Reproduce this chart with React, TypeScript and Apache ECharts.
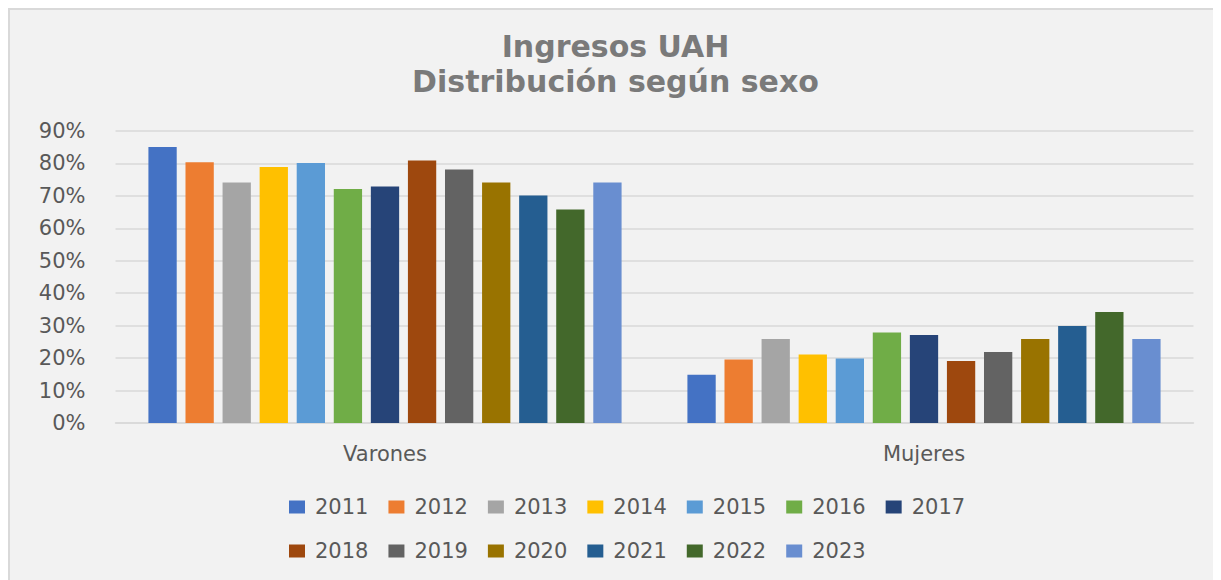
import React, { useEffect, useRef } from "react";
import * as echarts from "echarts";

const categories = ["Varones", "Mujeres"];
const years = ["2011", "2012", "2013", "2014", "2015", "2016", "2017", "2018", "2019", "2020", "2021", "2022", "2023"];
const varones = [85.1, 80.4, 74.1, 78.9, 80.1, 72.1, 72.9, 80.9, 78.1, 74.1, 70.1, 65.8, 74.1];
const mujeres = [14.9, 19.6, 25.9, 21.1, 19.9, 27.9, 27.1, 19.1, 21.9, 25.9, 29.9, 34.2, 25.9];
const colors = ["#4472C4", "#ED7D31", "#A5A5A5", "#FFC000", "#5B9BD5", "#70AD47", "#264478", "#9E480E", "#636363", "#997300", "#255E91", "#43682B", "#698ED0"];
const yTicks = [0, 10, 20, 30, 40, 50, 60, 70, 80, 90];

const FONT = "DejaVu Sans";

export default function App() {
  const ref = useRef<HTMLDivElement>(null);
  useEffect(() => {
    document.documentElement.style.overflow = "hidden";
    const chart = echarts.init(ref.current!, null, { renderer: "svg" });
    chart.setOption({
      animation: false,
      backgroundColor: "#f2f2f2",
      color: colors,
      title: {
        text: "Ingresos UAH\nDistribución según sexo",
        left: "center",
        top: 14,
        textStyle: {
          fontFamily: FONT,
          fontSize: 30,
          fontWeight: "bold",
          color: "#7a7a7a",
          lineHeight: 35,
        },
      },
      legend: {
        left: 274,
        top: 480,
        width: 700,
        itemWidth: 16,
        itemHeight: 13,
        itemGap: 20,
        icon: "rect",
        textStyle: {
          fontFamily: FONT,
          fontSize: 21,
          color: "#595959",
          lineHeight: 24,
          padding: [0, 0, 0, 5],
        },
        data: years,
      },
      grid: { left: 105.5, right: 27.5, top: 121, bottom: 157, containLabel: false },
      xAxis: {
        type: "category",
        data: categories,
        axisLine: { show: true, lineStyle: { color: "#d9d9d9", width: 1.5 } },
        axisTick: { show: false },
        axisLabel: { fontFamily: FONT, fontSize: 21, color: "#595959", margin: 20 },
      },
      yAxis: {
        type: "value",
        min: yTicks[0],
        max: yTicks[yTicks.length - 1],
        interval: 10,
        axisLine: { show: false },
        axisTick: { show: false },
        splitLine: { lineStyle: { color: "#d9d9d9", width: 1.5 } },
        axisLabel: {
          fontFamily: FONT,
          fontSize: 21,
          color: "#595959",
          margin: 30,
          formatter: (v: number) => `${v}%`,
        },
      },
      series: years.map((y, i) => ({
        name: y,
        type: "bar",
        data: [varones[i], mujeres[i]],
        barWidth: 28.3,
        barGap: "31%",
        itemStyle: { color: colors[i] },
      })),
    });
    return () => chart.dispose();
  }, []);
  return (
    <div
      style={{
        width: 1211,
        height: 570,
        borderTop: "2px solid #d9d9d9",
        borderLeft: "2px solid #d9d9d9",
        background: "#f2f2f2",
      }}
    >
      <div ref={ref} style={{ width: 1211, height: 570 }} />
    </div>
  );
}
